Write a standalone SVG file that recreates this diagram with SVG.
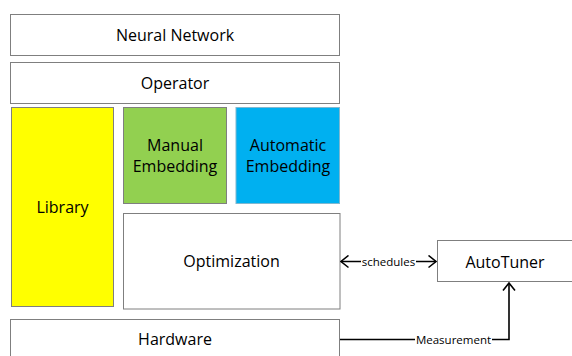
<svg xmlns="http://www.w3.org/2000/svg" width="572" height="356" viewBox="0 0 572 356">
  <style>
    .box { stroke: #7f7f7f; stroke-width: 1; fill: #ffffff; }
    .lbl { font-family: "Open Sans", "Liberation Sans", sans-serif; font-size: 16px; fill: #000; text-anchor: middle; dominant-baseline: central; }
    .small { font-family: "Open Sans", "Liberation Sans", sans-serif; font-size: 11.5px; fill: #000; text-anchor: middle; dominant-baseline: central; }
    .wire { stroke: #000; stroke-width: 1.6; fill: none; }
  </style>
  <defs>
    <marker id="head" viewBox="0 0 10 14" refX="9" refY="7" markerWidth="10" markerHeight="14" markerUnits="userSpaceOnUse" orient="auto-start-reverse">
      <polyline points="1.5,1 9,7 1.5,13" fill="none" stroke="#000" stroke-width="1.6"/>
    </marker>
  </defs>
  <rect width="572" height="356" fill="#ffffff"/>

  <g id="neural-network">
    <rect class="box" x="10.5" y="14.5" width="329" height="41"/>
    <text class="lbl" x="175" y="35">Neural Network</text>
  </g>
  <g id="operator">
    <rect class="box" x="10.5" y="62.5" width="329" height="41"/>
    <text class="lbl" x="175" y="83">Operator</text>
  </g>
  <g id="library">
    <rect class="box" x="11.5" y="107.5" width="102" height="199" style="fill:#ffff00"/>
    <text class="lbl" x="62.5" y="207">Library</text>
  </g>
  <g id="manual-embedding">
    <rect class="box" x="123.5" y="107.5" width="103" height="96" style="fill:#92d050"/>
    <text class="lbl" x="175" y="145">Manual</text>
    <text class="lbl" x="175" y="165.5">Embedding</text>
  </g>
  <g id="automatic-embedding">
    <rect class="box" x="236" y="107.5" width="103.5" height="96" style="fill:#00b0f0;stroke:#7fb8d0"/>
    <text class="lbl" x="288" y="145">Automatic</text>
    <text class="lbl" x="288" y="165.5">Embedding</text>
  </g>
  <g id="optimization">
    <rect class="box" x="123.5" y="213.5" width="216.5" height="95.5"/>
    <text class="lbl" x="231.5" y="261">Optimization</text>
  </g>
  <g id="hardware">
    <rect class="box" x="10.5" y="319.5" width="329" height="42"/>
    <text class="lbl" x="175" y="339">Hardware</text>
  </g>
  <g id="autotuner">
    <rect class="box" x="437.5" y="240.5" width="140" height="41"/>
    <text class="lbl" x="505" y="262">AutoTuner</text>
  </g>

  <g id="connectors">
    <line class="wire" x1="341" y1="261.5" x2="436" y2="261.5" marker-start="url(#head)" marker-end="url(#head)"/>
    <rect x="361" y="254" width="55" height="15" fill="#ffffff"/>
    <text class="small" x="388.5" y="261.5">schedules</text>

    <polyline class="wire" points="340,339.5 509,339.5 509,283" marker-end="url(#head)"/>
    <rect x="415" y="332" width="77" height="15" fill="#ffffff"/>
    <text class="small" x="453.5" y="339.5">Measurement</text>
  </g>
</svg>
